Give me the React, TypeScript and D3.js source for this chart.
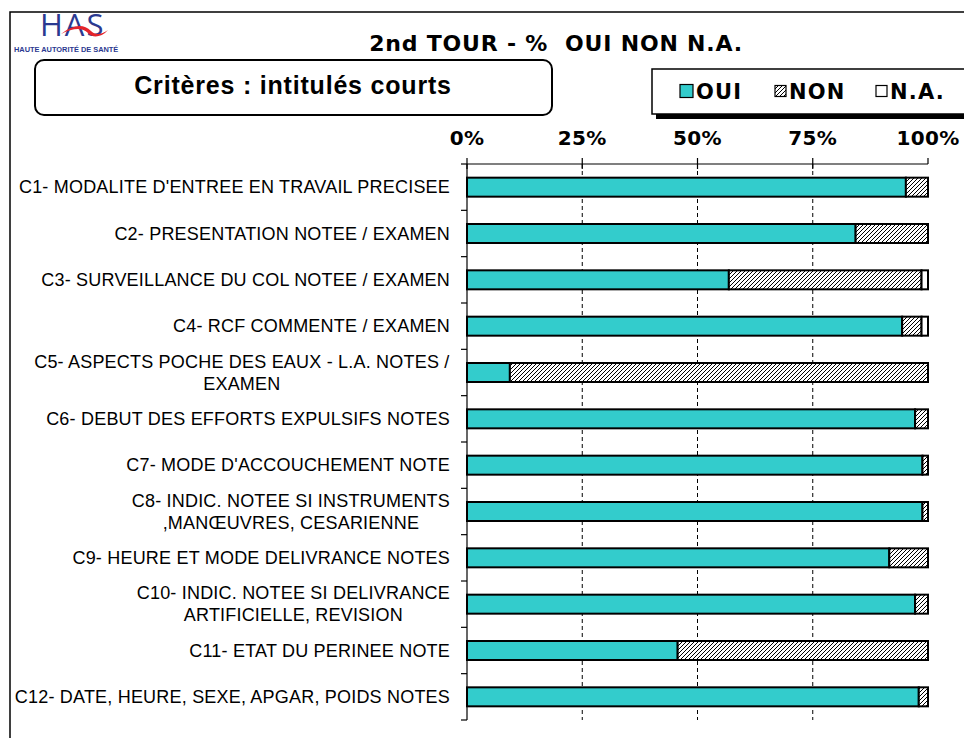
import React, { useMemo } from "react";
import * as d3 from "d3";

const categories = [
  "C1- MODALITE D'ENTREE EN TRAVAIL PRECISEE",
  "C2- PRESENTATION NOTEE / EXAMEN",
  "C3- SURVEILLANCE DU COL NOTEE / EXAMEN",
  "C4- RCF COMMENTE / EXAMEN",
  "C5- ASPECTS POCHE DES EAUX - L.A. NOTES /\nEXAMEN",
  "C6- DEBUT DES EFFORTS EXPULSIFS NOTES",
  "C7- MODE D'ACCOUCHEMENT NOTE",
  "C8- INDIC. NOTEE SI INSTRUMENTS\n,MANŒUVRES, CESARIENNE",
  "C9- HEURE ET MODE DELIVRANCE NOTES",
  "C10- INDIC. NOTEE SI DELIVRANCE\nARTIFICIELLE, REVISION",
  "C11- ETAT DU PERINEE NOTE",
  "C12- DATE, HEURE, SEXE, APGAR, POIDS NOTES",
];
const oui = [95.2, 84.3, 56.8, 94.4, 9.3, 97.2, 98.8, 98.8, 91.6, 97.2, 45.7, 98.0];
const non = [4.8, 15.7, 41.8, 4.2, 90.7, 2.8, 1.2, 1.2, 8.4, 2.8, 54.3, 2.0];
const na = [0, 0, 1.4, 1.4, 0, 0, 0, 0, 0, 0, 0, 0];
const seriesNames = ["OUI", "NON", "N.A."];
const ticks = [0, 25, 50, 75, 100];
const title = "2nd TOUR - %  OUI NON N.A.";
const subtitle = "Critères : intitulés courts";

const LABEL_FONT = "18px 'Liberation Sans'";
const LABEL_LS = 0.2;

function measure(text: string) {
  const c = document.createElement("canvas");
  const ctx = c.getContext("2d")!;
  ctx.font = LABEL_FONT;
  return ctx.measureText(text).width + LABEL_LS * text.length;
}

export default function App() {
  const W = 964, H = 738;
  const x = d3.scaleLinear().domain([0, 100]).range([467, 928]);
  const y = d3
    .scaleBand<string>()
    .domain(categories)
    .range([164, 720])
    .paddingInner(0.59)
    .paddingOuter(0.295);

  const rows = categories.map((c, i) => ({ cat: c, OUI: oui[i], NON: non[i], "N.A.": na[i] }));
  const stacked = d3.stack<any>().keys(seriesNames)(rows);
  const fills: Record<string, string> = { OUI: "#33CCCC", NON: "url(#hatch)", "N.A.": "#ffffff" };

  const labelRight = 450;
  const labels = useMemo(
    () =>
      categories.map((c) => {
        const lines = c.split("\n");
        const maxW = Math.max(...lines.map(measure));
        return { lines, cx: labelRight - maxW / 2 };
      }),
    []
  );

  const step = y.step();
  const top = 164, bottom = 720;

  return (
    <svg width={W} height={H} style={{ position: "absolute", left: 0, top: 0, background: "#fff" }}>
      <defs>
        <pattern id="hatch" patternUnits="userSpaceOnUse" width="4" height="4">
          <rect width="4" height="4" fill="#fff" />
          <path d="M-1,1 l2,-2 M0,4 l4,-4 M3,5 l2,-2" stroke="#000" strokeWidth="1" />
        </pattern>
      </defs>
      {/* outer frame */}
      <path d={`M10,${H} V12 H${W}`} fill="none" stroke="#000" strokeWidth={1.5} />

      {/* logo */}
      <g>
        <text x={40} y={36} fontFamily="'Open Sans'" fontSize={31} fill="#2b3990" letterSpacing={2}>
          HAS
        </text>
        <path d="M61,34 C73,25 83,23 91,31 C95,35 101,35 108,30 C101,38 92,38 88,33 C82,27 73,28 61,34 Z" fill="#e4232b" />
        <text x={14} y={52} fontFamily="'Liberation Sans'" fontWeight="bold" fontSize={7.4} fill="#2b3990">
          HAUTE AUTORITÉ DE SANTÉ
        </text>
      </g>

      {/* title */}
      <text
        x={556}
        y={51}
        textAnchor="middle"
        fontFamily="'DejaVu Sans'"
        fontWeight="bold"
        fontSize={22}
        letterSpacing={0.8}
        style={{ whiteSpace: "pre" }}
      >
        {title}
      </text>

      {/* subtitle box */}
      <rect x={35} y={60} width={517} height={55} rx={9} fill="#fff" stroke="#000" strokeWidth={2} />
      <text
        x={293}
        y={94}
        textAnchor="middle"
        fontFamily="'Liberation Sans'"
        fontWeight="bold"
        fontSize={25}
        letterSpacing={0.8}
      >
        {subtitle}
      </text>

      {/* legend */}
      <rect x={656} y={73} width={330} height={46} fill="#000" />
      <rect x={652} y={69} width={330} height={45} fill="#fff" stroke="#000" strokeWidth={1.5} />
      {seriesNames.map((s, i) => {
        const lx = [680, 775, 876][i];
        const size = i === 0 ? 13 : 11;
        return (
          <g key={s}>
            <rect
              x={lx}
              y={91 - size / 2}
              width={size}
              height={size}
              fill={fills[s]}
              stroke="#000"
              strokeWidth={1.2}
            />
            <text
              x={lx + size + 3}
              y={98.5}
              fontFamily="'DejaVu Sans'"
              fontWeight="bold"
              fontSize={21}
              letterSpacing={1.2}
            >
              {s}
            </text>
          </g>
        );
      })}

      {/* gridlines */}
      {ticks
        .filter((t) => t > 0 && t < 100)
        .map((t) => (
          <line
            key={t}
            x1={x(t)}
            x2={x(t)}
            y1={top}
            y2={bottom}
            stroke="#000"
            strokeWidth={1}
            strokeDasharray="4,3"
          />
        ))}

      {/* top axis */}
      <line x1={x(0)} x2={x(100)} y1={top} y2={top} stroke="#000" strokeWidth={1.2} />
      {ticks.map((t) => (
        <g key={t}>
          <line x1={x(t)} x2={x(t)} y1={top - 6} y2={t === 100 ? top : top + 5} stroke="#000" strokeWidth={1.2} />
          <text
            x={x(t)}
            y={145}
            textAnchor="middle"
            fontFamily="'DejaVu Sans'"
            fontWeight="bold"
            fontSize={20}
            letterSpacing={0.3}
          >
            {t}%
          </text>
        </g>
      ))}

      {/* left axis */}
      <line x1={x(0)} x2={x(0)} y1={top} y2={bottom} stroke="#000" strokeWidth={1.2} />
      {d3.range(categories.length + 1).map((i) => {
        const yy = top + i * step;
        return <line key={i} x1={x(0) - 6} x2={x(0)} y1={yy} y2={yy} stroke="#000" strokeWidth={1.2} />;
      })}

      {/* bars */}
      {stacked.map((layer) => (
        <g key={layer.key}>
          {layer.map((d, i) =>
            d[1] - d[0] > 0 ? (
              <rect
                key={i}
                x={x(d[0])}
                y={y(categories[i])!}
                width={x(d[1]) - x(d[0])}
                height={y.bandwidth()}
                fill={fills[layer.key]}
                stroke="#000"
                strokeWidth={2}
              />
            ) : null
          )}
        </g>
      ))}

      {/* category labels */}
      {labels.map((l, i) => {
        const cy = y(categories[i])! + y.bandwidth() / 2;
        const n = l.lines.length;
        const lh = 22;
        return (
          <text
            key={i}
            fontFamily="'Liberation Sans'"
            fontSize={18}
            letterSpacing={LABEL_LS}
            textAnchor={n > 1 ? "middle" : "end"}
          >
            {l.lines.map((ln, j) => (
              <tspan key={j} x={n > 1 ? l.cx : labelRight} y={cy + 6 + (j - (n - 1) / 2) * lh}>
                {ln}
              </tspan>
            ))}
          </text>
        );
      })}
    </svg>
  );
}
